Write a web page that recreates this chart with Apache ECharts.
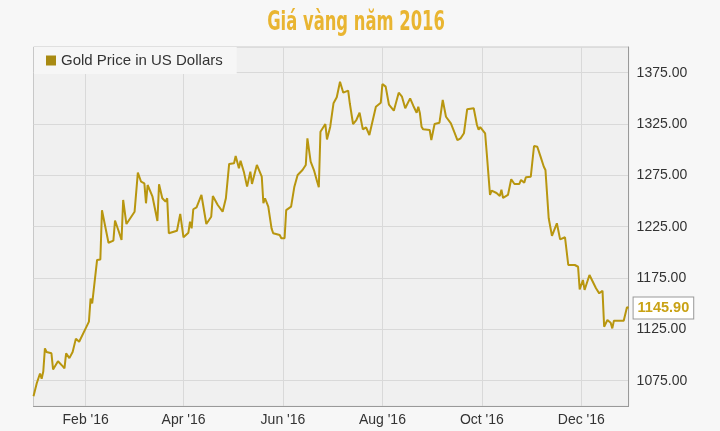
<!DOCTYPE html>
<html><head><meta charset="utf-8">
<script src="https://cdn.jsdelivr.net/npm/echarts@6/dist/echarts.min.js"></script>
<style>html,body{margin:0;padding:0;background:#f7f7f7}#c{width:720px;height:431px}</style>
</head><body><div id="c"></div>
<script>
const dates = ['2015-12-31','2016-01-02','2016-01-04','2016-01-05','2016-01-06','2016-01-07','2016-01-08','2016-01-11','2016-01-12','2016-01-15','2016-01-18','2016-01-19','2016-01-20','2016-01-22','2016-01-24','2016-01-26','2016-01-28',
'2016-02-01','2016-02-03','2016-02-04','2016-02-05','2016-02-08','2016-02-10','2016-02-11','2016-02-12','2016-02-15','2016-02-18','2016-02-19','2016-02-21','2016-02-23','2016-02-24','2016-02-26',
'2016-03-02','2016-03-04','2016-03-06','2016-03-08','2016-03-09','2016-03-10','2016-03-13','2016-03-16','2016-03-17','2016-03-19','2016-03-21','2016-03-22','2016-03-23','2016-03-28','2016-03-30',
'2016-04-01','2016-04-04','2016-04-05','2016-04-06','2016-04-07','2016-04-09','2016-04-12','2016-04-13','2016-04-15','2016-04-18','2016-04-19','2016-04-22','2016-04-25','2016-04-27','2016-04-29',
'2016-05-02','2016-05-03','2016-05-05','2016-05-06','2016-05-08','2016-05-10','2016-05-12','2016-05-13','2016-05-16','2016-05-19','2016-05-20','2016-05-21','2016-05-23','2016-05-25','2016-05-26','2016-05-27','2016-05-30','2016-05-31',
'2016-06-02','2016-06-03','2016-06-06','2016-06-08','2016-06-10','2016-06-13','2016-06-15','2016-06-16','2016-06-18','2016-06-20','2016-06-22','2016-06-23','2016-06-24','2016-06-27','2016-06-28','2016-06-30',
'2016-07-02','2016-07-04','2016-07-06','2016-07-08','2016-07-11','2016-07-12','2016-07-14','2016-07-16','2016-07-18','2016-07-20','2016-07-22','2016-07-24','2016-07-28','2016-07-31',
'2016-08-01','2016-08-03','2016-08-05','2016-08-08','2016-08-11','2016-08-13','2016-08-15','2016-08-18','2016-08-20','2016-08-22','2016-08-23','2016-08-24','2016-08-25','2016-08-26','2016-08-30','2016-08-31',
'2016-09-02','2016-09-05','2016-09-07','2016-09-09','2016-09-12','2016-09-14','2016-09-16','2016-09-18','2016-09-20','2016-09-22','2016-09-26','2016-09-28','2016-09-29','2016-09-30',
'2016-10-03','2016-10-04','2016-10-06','2016-10-07','2016-10-10','2016-10-12','2016-10-13','2016-10-14','2016-10-17','2016-10-19','2016-10-21','2016-10-24','2016-10-25','2016-10-27','2016-10-28','2016-10-31',
'2016-11-02','2016-11-04','2016-11-06','2016-11-08','2016-11-09','2016-11-11','2016-11-13','2016-11-16','2016-11-17','2016-11-18','2016-11-21','2016-11-23','2016-11-27','2016-11-29','2016-11-30',
'2016-12-02','2016-12-03','2016-12-06','2016-12-10','2016-12-12','2016-12-14','2016-12-15','2016-12-17','2016-12-19','2016-12-20','2016-12-21','2016-12-27','2016-12-29','2016-12-30'];
const prices = [1060,1072.5,1082,1077,1084,1106.6,1103,1101.7,1086,1094,1089,1087,1101.7,1097,1103,1116,1113,
1126,1132.5,1155,1150.4,1192.6,1193,1241,1239.6,1209.4,1211.4,1231,1221.8,1212,1251,1227.6,
1239.6,1277.6,1268.8,1267.2,1247.8,1265.6,1254.2,1230.5,1266.3,1252.7,1249.4,1252.7,1218.6,1221.1,1237.4,
1214.7,1219.2,1229.9,1223.4,1242,1243.9,1255.9,1254.9,1227.6,1234.7,1254.9,1246.1,1239.6,1252.7,1286.1,
1286.8,1293.9,1281.9,1289.3,1278.6,1264,1278.6,1266.6,1285.1,1273.7,1247.8,1252.7,1244.5,1223.4,1218.6,1217.9,1216.9,1213.7,
1213.7,1241.2,1244.5,1264,1275.4,1280.2,1285.1,1311.1,1288.3,1280.2,1268.8,1263.4,1317.5,1325,1310,1322.4,
1345.2,1351,1366.2,1355.5,1357.5,1345.2,1325,1328.9,1336,1319.8,1321.8,1314.3,1341.9,1345.8,
1364,1361.4,1344,1338,1355.5,1351.6,1340.3,1350,1342.6,1336,1341.9,1335.4,1322.4,1319.8,1319.2,1309.4,
1325,1326.3,1348.4,1332.1,1325.7,1317.5,1309.4,1311.1,1316,1339.4,1340.3,1324,1319.5,1322,
1316,1296.5,1256,1260.1,1257.8,1255,1261,1253,1255.9,1271.2,1266.6,1266.6,1270.5,1267.9,1273.1,1273.7,
1303.6,1302.9,1293.2,1283.4,1280.2,1233.2,1216,1228.3,1226.6,1212.7,1214.7,1187.7,1187.7,1186,1164,
1173.1,1163.4,1178,1165,1160.1,1162.7,1127.6,1134.1,1131.5,1126,1133.5,1133.5,1146.5,1145.9];
const tickDates = ['2016-02-01','2016-04-01','2016-06-01','2016-08-01','2016-10-01','2016-12-01'];
const tickLabels = ["Feb '16","Apr '16","Jun '16","Aug '16","Oct '16","Dec '16"];
const yLabelValues = [1075,1125,1175,1225,1275,1325,1375];
const lastLabel = '1145.90';
const seriesName = 'Gold Price in US Dollars';
const titleText = 'Giá vàng năm 2016';

const days = [];
for (let t = Date.UTC(2015,11,31); t <= Date.UTC(2016,11,30); t += 86400000) days.push(new Date(t).toISOString().slice(0,10));
const data = dates.map((d,i)=>[d, prices[i]]);
const isTick = (i, v) => tickDates.indexOf(v) >= 0;

const chart = echarts.init(document.getElementById('c'));
chart.setOption({
  backgroundColor: '#f7f7f7',
  animation: false,
  graphic: [{ type: 'text', x: 356, y: 23, scaleX: 0.63, silent: true,
    style: { text: titleText, fill: '#e9b531', align: 'center', verticalAlign: 'middle',
      font: "bold 26px 'DejaVu Sans', sans-serif" } }],
  legend: { left: 34, top: 47, itemWidth: 10, itemHeight: 10, icon: 'rect',
    backgroundColor: '#f6f6f6', padding: [6, 14, 6, 12], itemGap: 5,
    textStyle: { color: '#333', fontSize: 15, fontFamily: 'Liberation Sans' },
    data: [seriesName] },
  grid: { left: 33.5, right: 91.4, top: 47, bottom: 24.6, show: true,
    backgroundColor: '#f0f0f0', borderColor: '#c8c8c8', borderWidth: 1 },
  xAxis: { type: 'category', data: days, boundaryGap: false,
    axisLine: { show: true, lineStyle: { color: '#999' } },
    axisTick: { show: false },
    axisLabel: { interval: isTick, formatter: v => tickLabels[tickDates.indexOf(v)] || '',
      color: '#333', fontSize: 14, fontFamily: 'Liberation Sans', margin: 7 },
    splitLine: { show: true, interval: isTick, lineStyle: { color: '#d9d9d9' } } },
  yAxis: { type: 'value', position: 'right', min: 1050, max: 1400, interval: 25,
    axisLine: { show: true, lineStyle: { color: '#999' } },
    axisTick: { show: false },
    axisLabel: { formatter: v => yLabelValues.indexOf(v) >= 0 ? v.toFixed(2) : '',
      color: '#333', fontSize: 14, fontFamily: 'Liberation Sans', margin: 8 },
    splitLine: { show: true, lineStyle: { color: ['rgba(0,0,0,0)', '#d9d9d9'] } } },
  series: [{ name: seriesName, type: 'line', data: data, showSymbol: false,
    itemStyle: { color: '#a88a12' },
    lineStyle: { color: '#b8960f', width: 2 },
    endLabel: { show: true, formatter: lastLabel, color: '#c9a215', fontWeight: 'bold',
      fontSize: 14.5, fontFamily: 'Liberation Sans', backgroundColor: '#fff',
      borderColor: '#999', borderWidth: 1, padding: [3, 4, 3, 4], distance: 5 } }]
});
</script></body></html>
